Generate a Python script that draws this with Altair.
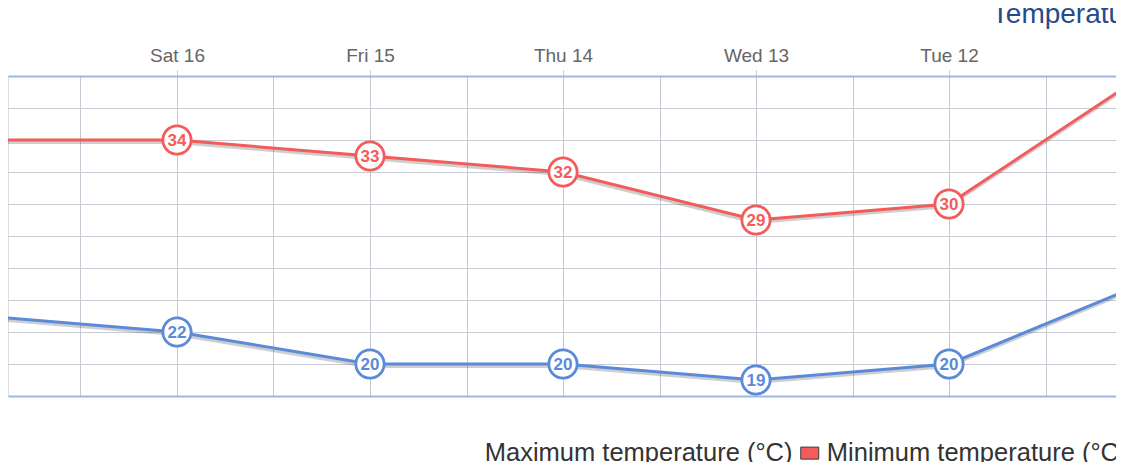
import altair as alt
import pandas as pd

# ---- data ----
days = ["Mon 11", "Tue 12", "Wed 13", "Thu 14", "Fri 15", "Sat 16", "Sun 17"]
day_index = [0, 1, 2, 3, 4, 5, 6]
max_temp = [38, 30, 29, 32, 33, 34, 34]
min_temp = [25, 20, 19, 20, 20, 22, 23]
series_names = ["Maximum temperature (°C)", "Minimum temperature (°C)"]
series_colors = ["#f45b5b", "#5b8ad8"]
y_grid = [18, 20, 22, 24, 26, 28, 30, 32, 34, 36, 38]
x_grid = [0, 0.5, 1, 1.5, 2, 2.5, 3, 3.5, 4, 4.5, 5, 5.5, 6]

rows = []
for i, d, hi, lo in zip(day_index, days, max_temp, min_temp):
    rows.append({"idx": i, "day": d, "series": series_names[0], "temp": hi})
    rows.append({"idx": i, "day": d, "series": series_names[1], "temp": lo})
df = pd.DataFrame(rows)

W, H = 1108, 320
STEP = 193.0
x_lo = (1134 - W) / STEP
x_hi = 1134 / STEP

label_array = "[" + ",".join("'" + d + "'" for d in days) + "]"
label_expr = "(datum.value % 1 === 0) ? " + label_array + "[datum.value] : ''"

x_enc = alt.X(
    "idx:Q",
    scale=alt.Scale(domain=[x_lo, x_hi], reverse=True, nice=False, zero=False),
    axis=alt.Axis(
        orient="top", values=x_grid, title=None,
        labelExpr=label_expr,
        labelFontSize=19, labelFont="Liberation Sans", labelColor="#666666",
        labelPadding=5, labelOverlap=False, labelFlush=False,
        tickSize=6, tickColor="#c5c9d3",
        tickOpacity={"condition": {"test": "datum.value % 1 !== 0", "value": 0}, "value": 1},
        grid=True, gridColor="#c5c9d3", gridWidth=1,
        domainColor="#9db7e6", domainWidth=2,
    ),
)
y_enc = alt.Y(
    "temp:Q",
    scale=alt.Scale(domain=[18, 38], nice=False, zero=False),
    axis=alt.Axis(
        values=y_grid, labels=False, ticks=False, domain=False, title=None,
        gridColor={"condition": {"test": "datum.value === 18", "value": "#9db7e6"}, "value": "#c8cbd4"},
        gridWidth={"condition": {"test": "datum.value === 18", "value": 2}, "value": 1.2},
    ),
)

# stroke scale lists the series in the other order so that its (hidden) legend
# is not merged with the fill legend below
stroke_scale = alt.Scale(domain=series_names[::-1], range=series_colors[::-1])
fill_scale = alt.Scale(domain=series_names, range=series_colors)
base = alt.Chart(df)

shadow = base.mark_line(color="#222222", opacity=0.22, strokeWidth=4, xOffset=-1, yOffset=2).encode(
    x=x_enc, y=y_enc, detail="series:N"
)
line = base.mark_line(strokeWidth=3).encode(
    x=x_enc, y=y_enc, stroke=alt.Stroke("series:N", scale=stroke_scale, legend=None)
)
points = base.mark_circle(size=800, fill="white", opacity=1, strokeWidth=2.8).encode(
    x=x_enc, y=y_enc, stroke=alt.Stroke("series:N", scale=stroke_scale, legend=None)
)
labels = base.mark_text(fontSize=17, fontWeight="bold", font="Liberation Sans", baseline="middle", dy=1).encode(
    x=x_enc, y=y_enc, text="temp:Q",
    fill=alt.Fill(
        "series:N", scale=fill_scale,
        legend=alt.Legend(
            title=None, orient="none", legendX=789, legendY=364, direction="horizontal",
            symbolType="M-1,-0.667H1V0.667H-1Z", symbolSize=324,
            symbolStrokeColor="#3a3a3a", symbolStrokeWidth=1, symbolOpacity=1,
            labelFontSize=25.5, labelFont="Liberation Sans", labelColor="#333333",
            labelAlign="right", labelOffset={"expr": "-30"}, labelLimit=600, columnPadding=5,
        ),
    ),
)

chart = (
    alt.layer(shadow, line, points, labels)
    .properties(
        width=W, height=H,
        title=alt.TitleParams(
            "Temperature", anchor="end", frame="group", fontSize=28, font="Liberation Sans",
            fontWeight="normal", color="#274b8a", dx=33, offset=17,
        ),
        autosize=alt.AutoSizeParams(type="none"),
        padding={"left": 0, "top": 68, "right": 0, "bottom": 66},
    )
    .configure_view(fill="#e9effa", stroke="transparent")
    .configure(background="white")
)

chart.save("out.html", embed_options={"renderer": "svg", "actions": False})
